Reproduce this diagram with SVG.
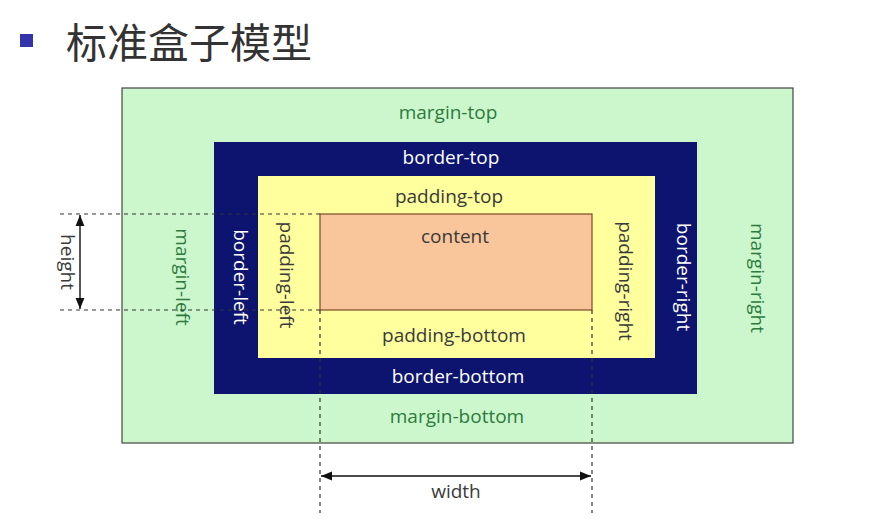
<svg xmlns="http://www.w3.org/2000/svg" width="869" height="526" viewBox="0 0 869 526">
<style>
text{font-family:"Open Sans","Noto Sans",sans-serif;font-size:19px;text-anchor:middle;dominant-baseline:central}
.g{fill:#2e7a3e}.w{fill:#fff}.d{fill:#3a3a3a}
.dash{stroke:#333;stroke-width:1.2;stroke-dasharray:4 4;fill:none}
</style>
<defs><marker id="a" viewBox="0 0 10 10" refX="10" refY="5" markerWidth="8" markerHeight="8" orient="auto-start-reverse"><path d="M0,1L10,5L0,9z" fill="#111"/></marker></defs>
<rect width="869" height="526" fill="#fff"/>
<g id="title"><rect x="20" y="34" width="13" height="13" fill="#3333aa"/><text x="189" y="40" style="font-family:'Noto Sans CJK SC',sans-serif;font-size:41px;fill:#333">标准盒子模型</text></g>
<g id="margin"><rect x="122" y="88" width="671" height="355" fill="#ccf7cc" stroke="#444" stroke-width="1.2"/>
<text class="g" x="448" y="112">margin-top</text><text class="g" x="457" y="416">margin-bottom</text>
<text class="g" transform="translate(183,277) rotate(90)">margin-left</text><text class="g" transform="translate(758,278) rotate(90)">margin-right</text></g>
<g id="border"><rect x="214" y="142" width="483" height="252" fill="#0c1470"/>
<text class="w" x="451" y="157">border-top</text><text class="w" x="458" y="376">border-bottom</text>
<text class="w" transform="translate(241,277) rotate(90)">border-left</text><text class="w" transform="translate(684,277) rotate(90)">border-right</text></g>
<g id="padding"><rect x="258" y="176" width="397" height="182" fill="#ffff9e"/>
<text class="d" x="449" y="196">padding-top</text><text class="d" x="454" y="335">padding-bottom</text>
<text class="d" transform="translate(287,275) rotate(90)">padding-left</text><text class="d" transform="translate(626,281) rotate(90)">padding-right</text></g>
<g id="content"><rect x="320" y="214" width="272" height="96" fill="#f9c59b" stroke="#7a4a2a" stroke-width="1.2"/><text class="d" x="455" y="236">content</text></g>
<g id="connectors">
<path class="dash" d="M60,214H320M60,310H320M320,310V513M592,310V513"/>
<line x1="80" y1="215" x2="80" y2="309" stroke="#111" stroke-width="1.4" marker-start="url(#a)" marker-end="url(#a)"/>
<line x1="321" y1="476" x2="591" y2="476" stroke="#111" stroke-width="1.4" marker-start="url(#a)" marker-end="url(#a)"/>
<text class="d" transform="translate(68,262) rotate(90)">height</text>
<text class="d" x="456" y="491">width</text></g>
</svg>
